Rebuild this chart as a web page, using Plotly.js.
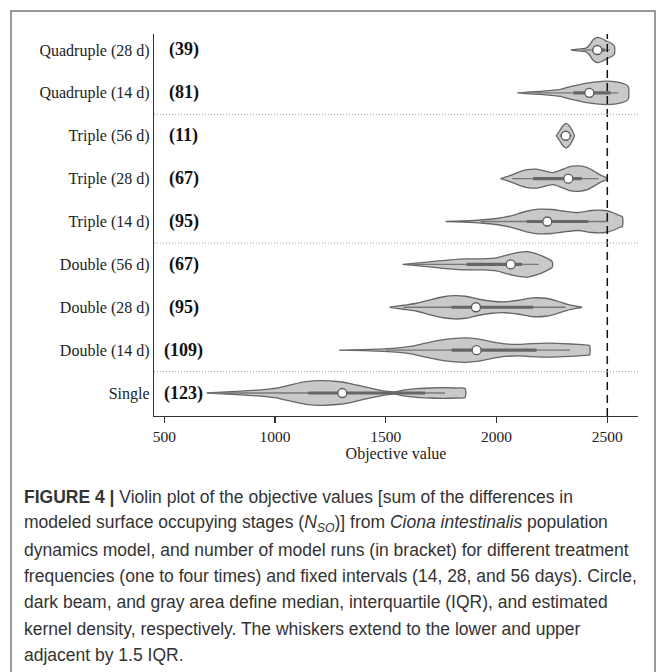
<!DOCTYPE html>
<html>
<head>
<meta charset="utf-8">
<script src="https://cdn.plot.ly/plotly-3.0.1.min.js"></script>
<style>
  html, body { margin: 0; padding: 0; background: #fff; }
  #chart { width: 667px; height: 672px; }
</style>
</head>
<body>
<div id="chart"></div>
<script>
// ---- data ----
const categories = ['Single', 'Double (14 d)', 'Double (28 d)', 'Double (56 d)',
  'Triple (14 d)', 'Triple (28 d)', 'Triple (56 d)', 'Quadruple (14 d)', 'Quadruple (28 d)'];
const runs = [123, 109, 95, 67, 95, 67, 11, 81, 39];
const medians = [1304, 1910, 1907, 2064, 2229, 2324, 2312, 2419, 2455];
const q1 = [1150, 1797, 1797, 1865, 2136, 2165, 2302, 2347, 2432];
const q3 = [1677, 2181, 2166, 2115, 2414, 2385, 2322, 2515, 2490];
const whiskLo = [700, 1500, 1580, 1620, 1930, 2070, 2285, 2110, 2385];
const whiskHi = [1767, 2332, 2310, 2190, 2505, 2460, 2340, 2550, 2512];
const targetValue = 2500;
const xTicks = [500, 1000, 1500, 2000, 2500];

// kernel density profiles: objective value grid and estimated half-width (density)
const densX_single = [691, 780, 880, 960, 1020, 1080, 1140, 1210, 1280, 1340, 1400, 1460, 1500, 1540, 1580, 1640, 1700, 1760, 1820, 1858];
const densW_single = [0, 1, 2.3, 3.7, 5.5, 8.7, 11.3, 12.3, 11.5, 9.5, 6.3, 3.5, 1.8, 1, 2.8, 4.3, 5, 5.3, 5, 4.5];
const densX_double14 = [1289, 1400, 1490, 1560, 1620, 1680, 1740, 1800, 1860, 1920, 1980, 2040, 2100, 2160, 2230, 2300, 2370, 2410, 2420];
const densW_double14 = [0, 0.5, 1.2, 2.3, 4, 7, 9.8, 11.5, 12.2, 11, 8.3, 6.3, 5.8, 6.5, 7, 6.5, 5.7, 5, 4.8];
const densX_double28 = [1517, 1580, 1640, 1700, 1760, 1810, 1860, 1920, 1980, 2040, 2100, 2160, 2220, 2270, 2320, 2355, 2386];
const densW_double28 = [0, 2, 4, 7.5, 10.5, 11.7, 11, 8, 6, 5.5, 7, 9.3, 9, 6.5, 3, 1.3, 0];
const densX_double56 = [1576, 1650, 1720, 1790, 1860, 1940, 2000, 2050, 2100, 2140, 2180, 2220, 2245, 2252];
const densW_double56 = [0, 1.5, 3, 4.5, 5.5, 5.5, 6.5, 9.5, 12, 12.7, 10.5, 7, 4, 2.5];
const densX_triple14 = [1770, 1850, 1930, 2000, 2070, 2130, 2190, 2250, 2300, 2370, 2430, 2490, 2530, 2555, 2568];
const densW_triple14 = [0, 0.6, 1.5, 3, 6, 10, 12.3, 12, 10.5, 9, 11, 11, 8.5, 6, 5];
const densX_triple28 = [2018, 2060, 2100, 2140, 2180, 2220, 2255, 2290, 2330, 2370, 2410, 2440, 2470, 2497];
const densW_triple28 = [0, 3, 6.5, 9, 9.5, 7.5, 6, 8.5, 12, 12.7, 11, 7.5, 3.5, 0.8];
const densX_triple56 = [2270, 2285, 2300, 2315, 2328, 2340, 2352];
const densW_triple56 = [0, 5, 10, 12.3, 10, 6, 0];
const densX_quad14 = [2094, 2150, 2200, 2250, 2290, 2320, 2360, 2400, 2450, 2500, 2540, 2570, 2590, 2596];
const densW_quad14 = [0, 1, 1.5, 2.5, 3.5, 5.5, 7.5, 9.5, 11, 11.7, 11, 9.5, 7.5, 5.5];
const densX_quad28 = [2336, 2380, 2405, 2420, 2435, 2455, 2475, 2500, 2520, 2532];
const densW_quad28 = [0, 1.2, 2, 5, 10, 12.7, 11.5, 8.5, 6.5, 4];

const densX = [densX_single, densX_double14, densX_double28, densX_double56, densX_triple14,
  densX_triple28, densX_triple56, densX_quad14, densX_quad28];
const densW = [densW_single, densW_double14, densW_double28, densW_double56, densW_triple14,
  densW_triple28, densW_triple56, densW_quad14, densW_quad28];

// ---- style ----
const WSCALE = 1 / 42.875;     // density units -> category spacing
const outline = '#666666';
const fillGray = '#c9c9c9';
const serif = 'Liberation Serif, Times New Roman, serif';
const sans = 'Liberation Sans, Arial, sans-serif';

const traces = [];
categories.forEach((c, i) => {
  const xs = densX[i], ws = densW[i];
  const px = [], py = [];
  for (let k = 0; k < xs.length; k++) { px.push(xs[k]); py.push(i + ws[k] * WSCALE); }
  for (let k = xs.length - 1; k >= 0; k--) { px.push(xs[k]); py.push(i - ws[k] * WSCALE); }
  px.push(xs[0]); py.push(i);
  traces.push({
    type: 'scatter', mode: 'lines', x: px, y: py, fill: 'toself',
    fillcolor: fillGray, line: { color: outline, width: 1.3, shape: 'spline', smoothing: 0.7 },
    hoverinfo: 'skip', showlegend: false
  });
  traces.push({
    type: 'scatter', mode: 'lines', x: [whiskLo[i], whiskHi[i]], y: [i, i],
    line: { color: '#777', width: 1.3 }, hoverinfo: 'skip', showlegend: false
  });
  traces.push({
    type: 'scatter', mode: 'lines', x: [q1[i], q3[i]], y: [i, i],
    line: { color: '#666', width: 3.2 }, hoverinfo: 'skip', showlegend: false
  });
});
traces.push({
  type: 'scatter', mode: 'markers', x: medians, y: categories.map((c, i) => i),
  marker: { size: 9, color: '#ffffff', line: { color: '#5a5a5a', width: 1.3 } },
  hoverinfo: 'x', showlegend: false
});

// layout geometry (pixels)
const W = 667, H = 672, ML = 154, MR = 29, MT = 34, MB = 256;
const PW = W - ML - MR, PH = H - MT - MB;
const pxX = p => (p - ML) / PW;
const pxY = p => (H - MB - p) / PH;

const annotations = categories.map((c, i) => ({
  xref: 'paper', yref: 'y', x: pxX(183.5), y: i, text: '(' + runs[i] + ')',
  showarrow: false, xanchor: 'center', yanchor: 'middle',
  font: { family: serif, size: 18, color: '#111', weight: 'bold' }
}));

const captionLines = [
  '<b>FIGURE 4 |</b> Violin plot of the objective values [sum of the differences in',
  'modeled surface occupying stages (<i>N</i><sub><i>SO</i></sub>)] from <i>Ciona intestinalis</i> population',
  'dynamics model, and number of model runs (in bracket) for different treatment',
  'frequencies (one to four times) and fixed intervals (14, 28, and 56 days). Circle,',
  'dark beam, and gray area define median, interquartile (IQR), and estimated',
  'kernel density, respectively. The whiskers extend to the lower and upper',
  'adjacent by 1.5 IQR.'
];
captionLines.forEach((t, k) => {
  annotations.push({
    xref: 'paper', yref: 'paper', x: pxX(22), y: pxY(497 + k * 26.3), text: t,
    showarrow: false, xanchor: 'left', yanchor: 'middle', align: 'left',
    font: { family: sans, size: 17.5, color: '#333' }
  });
});

const shapes = [
  { type: 'line', xref: 'x', yref: 'paper', x0: targetValue, x1: targetValue, y0: 0, y1: 1,
    line: { color: '#111', width: 1.5, dash: '8px,5px' } },
  ...[0.5, 3.5, 6.5].map(v => ({ type: 'line', xref: 'paper', yref: 'y', x0: 0, x1: 1, y0: v, y1: v,
    line: { color: '#a0a0a0', width: 1, dash: '1px,2px' } })),
  { type: 'path', xref: 'paper', yref: 'paper',
    path: `M ${pxX(11)} ${pxY(720)} L ${pxX(11)} ${pxY(11)} L ${pxX(655)} ${pxY(11)} L ${pxX(655)} ${pxY(720)}`,
    line: { color: '#777', width: 1.5 } }
];

const layout = {
  width: W, height: H,
  margin: { l: ML, r: MR, t: MT, b: MB, pad: 0 },
  paper_bgcolor: '#fff', plot_bgcolor: '#fff',
  showlegend: false,
  xaxis: {
    range: [453.5, 2638.6], tickvals: xTicks, ticktext: xTicks.map(String),
    ticks: 'outside', ticklen: 6, tickwidth: 1.2, tickcolor: '#333',
    showline: true, linecolor: '#333', linewidth: 1.2, showgrid: false, zeroline: false,
    tickfont: { family: serif, size: 15.5, color: '#222' },
    title: { text: 'Objective value', font: { family: serif, size: 16, color: '#222' }, standoff: 2 },
    fixedrange: true
  },
  yaxis: {
    range: [-0.536, 8.373], tickvals: categories.map((c, i) => i), ticktext: categories,
    ticks: '', showline: true, linecolor: '#333', linewidth: 1.2, showgrid: false, zeroline: false,
    tickfont: { family: serif, size: 16, color: '#222' },
    fixedrange: true
  },
  annotations: annotations,
  shapes: shapes
};

Plotly.newPlot('chart', traces, layout, { displayModeBar: false, staticPlot: true });
</script>
</body>
</html>
